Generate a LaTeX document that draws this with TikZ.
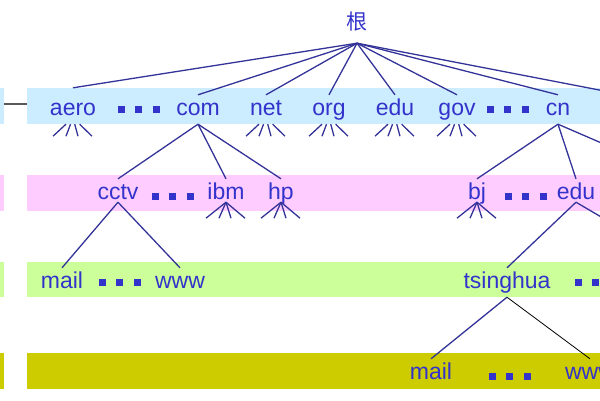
\documentclass[tikz,border=0pt]{standalone}
\usepackage{fontspec}
\setmainfont{Liberation Sans}
\newfontfamily\cjk{Noto Sans CJK SC}
\definecolor{bandcyan}{HTML}{CCECFF}
\definecolor{bandpink}{HTML}{FFCCFF}
\definecolor{bandgreen}{HTML}{CCFF99}
\definecolor{bandolive}{HTML}{CCCC00}
\definecolor{txtblue}{HTML}{3333CC}
\definecolor{lineblue}{HTML}{333399}

% little fan of sub-branches under a domain
\newcommand\fanout[3]{%
  \foreach \b in {-20,-7,5,19}{\draw[edge] ([xshift=#2*\b]#1.south) -- ++({(1-#2)*\b},#3);}}
% three square dots
\newcommand\sqdots[2]{%
  \foreach \i in {0,1,2}{\fill[txtblue] (#1+17.5*\i-3.5,#2-3.5) rectangle ++(7,7);}}

\begin{document}
\begin{tikzpicture}[x=1pt, y=-1pt,
    lbl/.style={font=\fontsize{23}{23}\selectfont, text=txtblue, inner sep=0pt,
                text height=20pt, text depth=9pt, anchor=base},
    low/.style={text depth=3pt},
    edge/.style={draw=lineblue, line width=1.3pt}]
    \useasboundingbox (0,0) rectangle (600,400);
    \clip (0,0) rectangle (600,400);

    % Level bands
    \fill[bandcyan] (0,88) rectangle (4,124);
    \fill[bandcyan] (27,88) rectangle (600,124);
    \draw[gray!70!black, line width=2pt] (4,104) -- (27,104);
    \fill[bandpink] (0,175) rectangle (4,211);
    \fill[bandpink] (27,175) rectangle (600,211);
    \fill[bandgreen] (0,262) rectangle (4,297);
    \fill[bandgreen] (27,262) rectangle (600,297);
    \fill[bandolive] (0,353) rectangle (4,389);
    \fill[bandolive] (27,353) rectangle (600,389);

    % Root
    \node[text=txtblue, font=\cjk\fontsize{21}{21}\selectfont, inner sep=0pt,
          minimum height=42pt] (root) at (357,22) {根};

    % Top level domains
    \node[lbl] (aero) at (73,115) {aero};
    \node[lbl] (com) at (198,115) {com};
    \node[lbl] (net) at (266,115) {net};
    \node[lbl] (org) at (329,115) {org};
    \node[lbl] (edu) at (395,115) {edu};
    \node[lbl] (gov) at (457,115) {gov};
    \node[lbl] (cn) at (558,115) {cn};
    \coordinate (rootR) at (620,94);
    \sqdots{121}{109}
    \sqdots{490}{109}

    % Second level
    \node[lbl, low] (cctv) at (118,199) {cctv};
    \node[lbl, low] (ibm) at (226,199) {ibm};
    \node[lbl, low] (hp) at (281,199) {hp};
    \node[lbl, low] (bj) at (477,199) {bj};
    \node[lbl, low] (educn) at (576,199) {edu};
    \coordinate (cnR) at (620,151);
    \coordinate (educnR) at (620,228);
    \sqdots{155}{196}
    \sqdots{508}{196}

    % Third level
    \node[lbl] (mailA) at (62,288) {mail};
    \node[lbl] (wwwA) at (180,288) {www};
    \node[lbl] (tsinghua) at (507,288) {tsinghua};
    \sqdots{102}{282}
    \sqdots{578}{282}

    % Fourth level
    \node[lbl] (mailB) at (431,379) {mail};
    \node[lbl] (wwwB) at (590,379) {www};
    \sqdots{492}{376}

    % Branches
    \draw[edge] (root.south) -- ([yshift=7pt]aero.north);
    \foreach \d in {com,net,org,edu,gov,cn}{\draw[edge] (root.south) -- (\d.north);}
    \draw[edge] (root.south) -- (rootR);
    \foreach \d in {cctv,ibm,hp}{\draw[edge] (com.south) -- (\d.north);}
    \draw[edge] (cn.south) -- (bj.north);
    \draw[edge] (cn.south) -- (educn.north);
    \draw[edge] (cn.south) -- (cnR);
    \draw[edge] (cctv.south) -- (mailA.north);
    \draw[edge] (cctv.south) -- (wwwA.north);
    \draw[edge] (educn.south) -- (tsinghua.north);
    \draw[edge] (educn.south) -- (educnR);
    \draw[edge] (tsinghua.south) -- (mailB.north);
    \draw[black, line width=0.8pt] (tsinghua.south) -- (wwwB.north);

    % Sub-branch fans
    \foreach \d in {aero,net,org,edu,gov}{\fanout{\d}{0.35}{12}}
    \foreach \d in {ibm,hp,bj}{\fanout{\d}{0}{16}}
\end{tikzpicture}
\end{document}
